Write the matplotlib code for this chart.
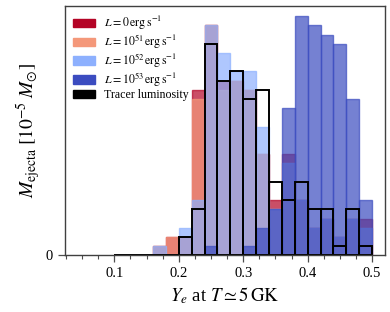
import numpy as np
import matplotlib
matplotlib.use('Agg')
import matplotlib.pyplot as plt
from matplotlib.patches import Patch
from matplotlib.ticker import MultipleLocator, FixedLocator

plt.rcParams['font.family'] = 'serif'
plt.rcParams['font.serif'] = ['Liberation Serif', 'DejaVu Serif']
plt.rcParams['mathtext.fontset'] = 'stix'

# bins of Ye, width 0.02, from 0.10 to 0.50
edges = np.round(np.arange(0.10, 0.5001, 0.02), 2)

# ejecta mass per bin (tracer units)
m_L0 = [0, 0, 0, 1, 2, 2, 18, 25, 19, 19, 18, 11, 6, 11, 6, 3, 4, 2, 4, 4]
m_L51 = [0, 0, 0, 1, 2, 2, 17, 25, 18, 19, 18, 11, 5, 10, 6, 3, 4, 2, 4, 3]
m_L52 = [0, 0, 0, 1, 0, 3, 6, 25, 22, 20, 20, 14, 5, 10, 6, 3, 4, 2, 4, 3]
m_L53 = [0, 0, 0, 0, 0, 0, 0, 1, 0, 0, 1, 3, 5, 16, 26, 25, 24, 23, 17, 6]
m_tracer = [0, 0, 0, 0, 0, 2, 5, 23, 19, 20, 17, 18, 8, 6, 8, 5, 5, 1, 5, 1]

labels = [r'$L = 0\,\mathrm{erg\,s^{-1}}$',
          r'$L = 10^{51}\,\mathrm{erg\,s^{-1}}$',
          r'$L = 10^{52}\,\mathrm{erg\,s^{-1}}$',
          r'$L = 10^{53}\,\mathrm{erg\,s^{-1}}$']
cmap = plt.get_cmap('coolwarm')
colors = [cmap(1.0), cmap(0.75), cmap(0.25), cmap(0.0)]

fig = plt.figure(figsize=(3.9, 3.12), dpi=100)
ax = fig.add_axes([0.1667, 0.1817, 0.8205, 0.7991])

width = edges[1:] - edges[:-1]
for m, c in zip([m_L0, m_L51, m_L52, m_L53], colors):
	ax.bar(edges[:-1], m, width=width, align='edge', color=c, edgecolor=c,
	       alpha=0.7, lw=1.0)
ax.bar(edges[:-1], m_tracer, width=width, align='edge', fill=False,
       edgecolor='k', lw=1.4)

ax.set_xlim(0.0235, 0.52)
ax.set_ylim(0, 27.1)
ax.xaxis.set_major_locator(FixedLocator([0.1, 0.2, 0.3, 0.4, 0.5]))
ax.xaxis.set_minor_locator(MultipleLocator(0.025))
ax.yaxis.set_major_locator(FixedLocator([0]))
ax.set_xticklabels(['0.1', '0.2', '0.3', '0.4', '0.5'])
ax.tick_params(which='major', length=5, width=0.9, color='0.3', labelsize=10.5)
ax.tick_params(which='minor', length=3, width=0.8, color='0.3')
for s in ax.spines.values():
	s.set_color('0.25')
	s.set_linewidth(1.0)

ax.set_xlabel(r'$Y_e$ at $T \simeq 5\,\mathrm{GK}$', fontsize=13.5, labelpad=4)
ax.set_ylabel(r'$M_{\mathrm{ejecta}}\;[10^{-5}\;M_{\odot}]$', fontsize=14, labelpad=2)

handles = [Patch(color=c) for c in colors] + [Patch(color='k')]
ax.legend(handles, labels + ['Tracer luminosity'], loc='upper left',
          frameon=False, fontsize=8.6, handlelength=1.8, handletextpad=0.75,
          labelspacing=0.05, borderaxespad=0.3)

plt.savefig('out.png', dpi=100)
